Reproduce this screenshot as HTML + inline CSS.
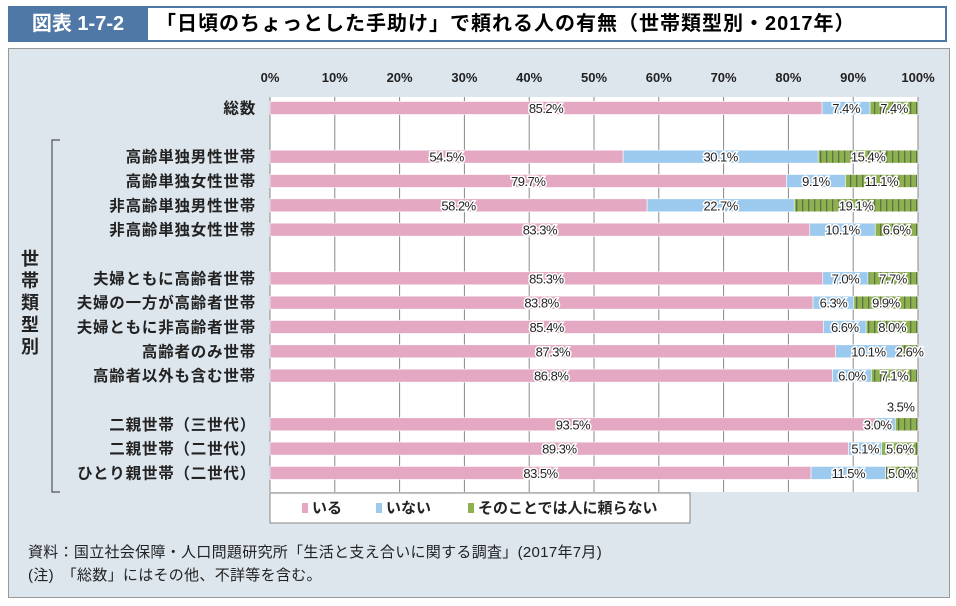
<!DOCTYPE html>
<html><head><meta charset="utf-8">
<style>
body{margin:0;width:956px;height:606px;background:#fff;font-family:"Liberation Sans","Noto Sans CJK JP",sans-serif;overflow:hidden;position:relative}
#hdr-num{position:absolute;left:8px;top:6px;width:140px;height:36px;background:#4f78a6;color:#fff;font-size:20px;font-weight:bold;line-height:36px;text-align:center}
#hdr-title{position:absolute;left:148px;top:6px;width:789px;height:32px;border:2px solid #4f78a6;border-left:none;background:#fff;font-size:20px;font-weight:bold;line-height:32px;padding-left:8px;letter-spacing:1px}
#panel{position:absolute;left:8px;top:48px;width:940px;height:548px;background:#dde5ed;border:1px solid #999}
svg{position:absolute;left:0;top:0}
.note{position:absolute;left:28px;font-size:15px;color:#222;letter-spacing:0.3px}
</style></head><body>
<div id="hdr-num">図表 1-7-2</div>
<div id="hdr-title">「日頃のちょっとした手助け」で頼れる人の有無（世帯類型別・2017年）</div>
<div id="panel"></div>
<div class="note" style="top:541px">資料：国立社会保障・人口問題研究所「生活と支え合いに関する調査」(2017年7月)</div>
<div class="note" style="top:564px">(注)　「総数」にはその他、不詳等を含む。</div>
<svg id="chart" width="956" height="606">
<defs><pattern id="stripe" width="6" height="13" patternUnits="userSpaceOnUse"><rect width="6" height="13" fill="#8db14f"/><rect x="4" width="1.3" height="13" fill="#5f7048"/></pattern></defs>
</svg>
<script>
const categories=["総数","高齢単独男性世帯","高齢単独女性世帯","非高齢単独男性世帯","非高齢単独女性世帯","夫婦ともに高齢者世帯","夫婦の一方が高齢者世帯","夫婦ともに非高齢者世帯","高齢者のみ世帯","高齢者以外も含む世帯","二親世帯（三世代）","二親世帯（二世代）","ひとり親世帯（二世代）"];
const iru=[85.2,54.5,79.7,58.2,83.3,85.3,83.8,85.4,87.3,86.8,93.5,89.3,83.5];
const inai=[7.4,30.1,9.1,22.7,10.1,7.0,6.3,6.6,10.1,6.0,3.0,5.1,11.5];
const tayoranai=[7.4,15.4,11.1,19.1,6.6,7.7,9.9,8.0,2.6,7.1,3.5,5.6,5.0];
const ticks=[0,10,20,30,40,50,60,70,80,90,100];
const seriesNames=["いる","いない","そのことでは人に頼らない"];
const rowSlots=[0,2,3,4,5,7,8,9,10,11,13,14,15];
const NS="http://www.w3.org/2000/svg";
const svg=document.getElementById('chart');
const X0=270,X1=918,PT=97,PB=492;
const x=v=>X0+(X1-X0)*v/100;
const yRow=i=>108+rowSlots[i]*24.33;
function mk(t,a){const e=document.createElementNS(NS,t);for(const k in a)e.setAttribute(k,a[k]);svg.appendChild(e);return e;}
let plot=mk('rect',{x:X0,y:PT,width:X1-X0,height:PB-PT,fill:'#fff'});


ticks.forEach(t=>{
 let g=mk('line',{x1:x(t),x2:x(t),y1:PT,y2:PB,stroke:'#888','stroke-width':1});
 
 
 let tl=mk('text',{x:x(t),y:82,'text-anchor':'middle','font-size':13,'font-weight':'bold',fill:'#222'});
 tl.textContent=t+'%';
 
 
});
const colors=['#e4a8c2','#9ccaef','url(#stripe)'];
const series=[iru,inai,tayoranai];
categories.forEach((c,i)=>{
 const yc=yRow(i);
 let cl=mk('text',{x:256,y:yc+5.5,'text-anchor':'end','font-size':15.5,'font-weight':'bold',fill:'#222','letter-spacing':'0.8'});
 cl.textContent=c;
 
 
 let acc=0;
 series.forEach((s,k)=>{
  const v=s[i];
  let r=mk('rect',{x:x(acc),y:yc-6.5,width:x(acc+v)-x(acc),height:13,fill:colors[k],stroke:'#fff','stroke-width':0.6});
  
  
  let cx=x(acc+v/2),ty=yc+5;
  if(k==2&&v<4&&inai[i]<4){ty=yc-13;cx=x(acc+v/2)-6;}
  else if(k==1&&v<4){cx=x(acc+v/2)-8;}
  let lb=mk('text',{x:cx,y:ty,'text-anchor':'middle','font-size':13,fill:'#222',stroke:'#fff','stroke-width':3,'paint-order':'stroke','letter-spacing':'-0.5'});
  lb.textContent=v.toFixed(1)+'%';
  
  
  acc+=v;
 });
});
let br=mk('path',{d:'M60 140 H52 V492 H60',fill:'none',stroke:'#555','stroke-width':1.2});


"世帯類型別".split('').forEach((ch,j)=>{
 let t=mk('text',{x:30,y:265+j*22,'text-anchor':'middle','font-size':18,'font-weight':'bold',fill:'#222'});
 t.textContent=ch;
 
 
});
let lg=mk('rect',{x:270,y:493,width:420,height:30,fill:'#fff',stroke:'#888'});


const lx=[302,376,468];
seriesNames.forEach((n,k)=>{
 let s=mk('rect',{x:lx[k],y:503,width:6,height:10,fill:k==2?'#8db14f':colors[k]});
 
 
 let t=mk('text',{x:lx[k]+10,y:513,'font-size':15,'font-weight':'bold',fill:'#222'});
 t.textContent=n;
 
 
});
</script>
</body></html>
